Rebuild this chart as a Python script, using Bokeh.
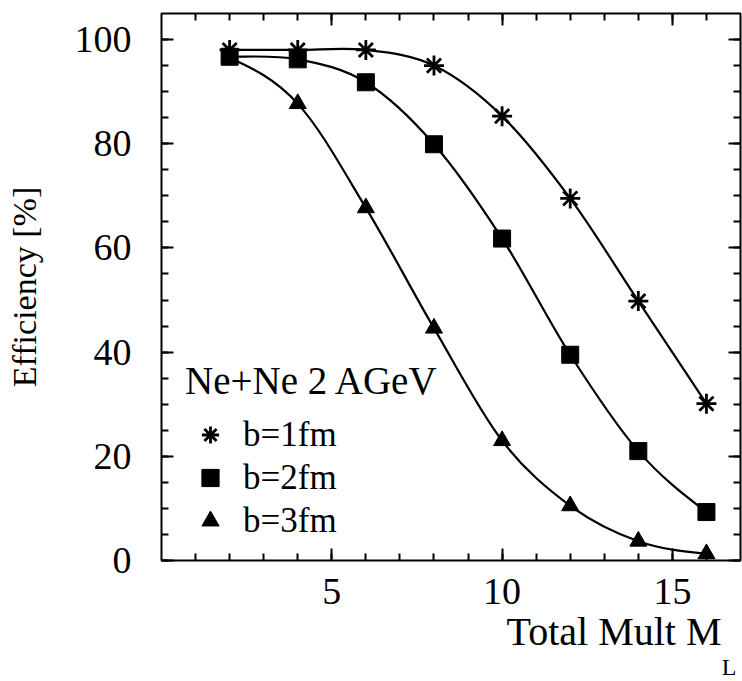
import numpy as np
from bokeh.plotting import figure
from bokeh.models import Range1d, LinearAxis, FixedTicker, Legend, LegendItem, Title, ColumnDataSource
from bokeh.embed import file_html
from bokeh.resources import INLINE

# ---- data ----
mult = [2, 4, 6, 8, 10, 12, 14, 16]
eff_b1 = [98.0, 98.0, 98.0, 95.0, 85.3, 69.5, 49.8, 30.1]
eff_b2 = [96.7, 96.2, 91.8, 79.9, 61.8, 39.5, 21.0, 9.3]
eff_b3 = [96.5, 87.7, 67.7, 44.6, 23.0, 10.5, 3.7, 1.3]
series_labels = ["b=1fm", "b=2fm", "b=3fm"]
series_markers = ["asterisk", "square", "triangle"]
x_ticks = [5, 10, 15]
x_minor = list(range(1, 17))
y_ticks = [0, 20, 40, 60, 80, 100]
y_minor = list(range(0, 105, 5))
legend_title = "Ne+Ne 2 AGeV"
x_label = "Total Mult M"
x_label_sub = "L"
y_label = "Efficiency [%]"

FONT = "Liberation Serif"


def smooth_segments(xs, ys):
    """Cubic Hermite (Catmull-Rom style) segments expressed as Bezier controls."""
    xs = np.asarray(xs, float)
    ys = np.asarray(ys, float)
    n = len(xs)
    h = np.diff(xs)
    s = np.diff(ys) / h
    m = np.zeros(n)
    m[1:-1] = (ys[2:] - ys[:-2]) / (xs[2:] - xs[:-2])
    m[0] = (3 * s[0] - m[1]) / 2
    if np.sign(m[0]) != np.sign(s[0]):
        m[0] = 0.0
    m[-1] = (3 * s[-1] - m[-2]) / 2
    if np.sign(m[-1]) != np.sign(s[-1]):
        m[-1] = 0.0
    return dict(x0=xs[:-1], y0=ys[:-1], x1=xs[1:], y1=ys[1:],
                cx0=xs[:-1] + h / 3, cy0=ys[:-1] + m[:-1] * h / 3,
                cx1=xs[1:] - h / 3, cy1=ys[1:] - m[1:] * h / 3)


p = figure(width=742, height=681, x_range=Range1d(0, 17), y_range=Range1d(0, 105),
           output_backend="svg", toolbar_location=None,
           x_axis_location=None, y_axis_location=None,
           min_border_left=161, min_border_right=2, min_border_top=13, min_border_bottom=121)
p.grid.visible = False
p.outline_line_color = "black"
p.outline_line_width = 2
p.background_fill_color = "white"
p.border_fill_color = "white"


def make_axis(ticks, minor, labels):
    ax = LinearAxis(ticker=FixedTicker(ticks=ticks, minor_ticks=minor))
    ax.axis_line_color = None
    ax.major_tick_in = 12
    ax.major_tick_out = 0
    ax.minor_tick_in = 7
    ax.minor_tick_out = 0
    ax.major_tick_line_width = 2
    ax.minor_tick_line_width = 2
    ax.major_tick_line_color = "black"
    ax.minor_tick_line_color = "black"
    if labels:
        ax.major_label_text_font = FONT
        ax.major_label_text_font_size = "38px"
        ax.major_label_text_color = "black"
    else:
        ax.major_label_overrides = {t: "" for t in ticks}
        ax.major_label_text_color = None
        ax.major_label_standoff = 0
    return ax


xb = make_axis(x_ticks, x_minor, True)
xb.major_label_standoff = 18
yl = make_axis(y_ticks, y_minor, True)
yl.major_label_standoff = 30
yl.axis_label = y_label
yl.axis_label_text_font = FONT
yl.axis_label_text_font_size = "34px"
yl.axis_label_text_font_style = "normal"
yl.axis_label_text_color = "black"
yl.axis_label_standoff = 29
xt = make_axis(x_ticks, x_minor, False)
yr = make_axis(y_ticks, y_minor, False)
p.add_layout(xb, "below")
p.add_layout(yl, "left")
p.add_layout(xt, "above")
p.add_layout(yr, "right")

p.add_layout(Title(text=x_label, align="right", offset=19, standoff=0,
                   text_font=FONT, text_font_size="40px", text_font_style="normal",
                   text_color="black"), "below")
p.add_layout(Title(text=x_label_sub, align="right", offset=4, standoff=0, vertical_align="top",
                   text_font=FONT, text_font_size="24px", text_font_style="normal",
                   text_color="black"), "below")

items = []
for vals, lab, mk in zip([eff_b1, eff_b2, eff_b3], series_labels, series_markers):
    p.bezier(source=ColumnDataSource(smooth_segments(mult, vals)),
             x0="x0", y0="y0", x1="x1", y1="y1", cx0="cx0", cy0="cy0", cx1="cx1", cy1="cy1",
             line_color="black", line_width=2.2)
    star = mk == "asterisk"
    r = p.scatter(mult, vals, marker=mk, size=20 if star else 17,
                  fill_color="black", line_color="black",
                  line_width=2.8 if star else 1)
    items.append(LegendItem(label=lab, renderers=[r]))

legend = Legend(items=items, location=(24, 18),
                title=legend_title, title_text_font=FONT, title_text_font_size="39px",
                title_text_font_style="normal", title_text_color="black", title_standoff=10,
                label_text_font=FONT, label_text_font_size="35px", label_text_color="black",
                glyph_width=50, glyph_height=43, label_height=43, label_standoff=8,
                spacing=0, padding=0, margin=0,
                border_line_color=None, background_fill_alpha=0)
p.add_layout(legend)

open("out.html", "w").write(file_html(p, INLINE))
